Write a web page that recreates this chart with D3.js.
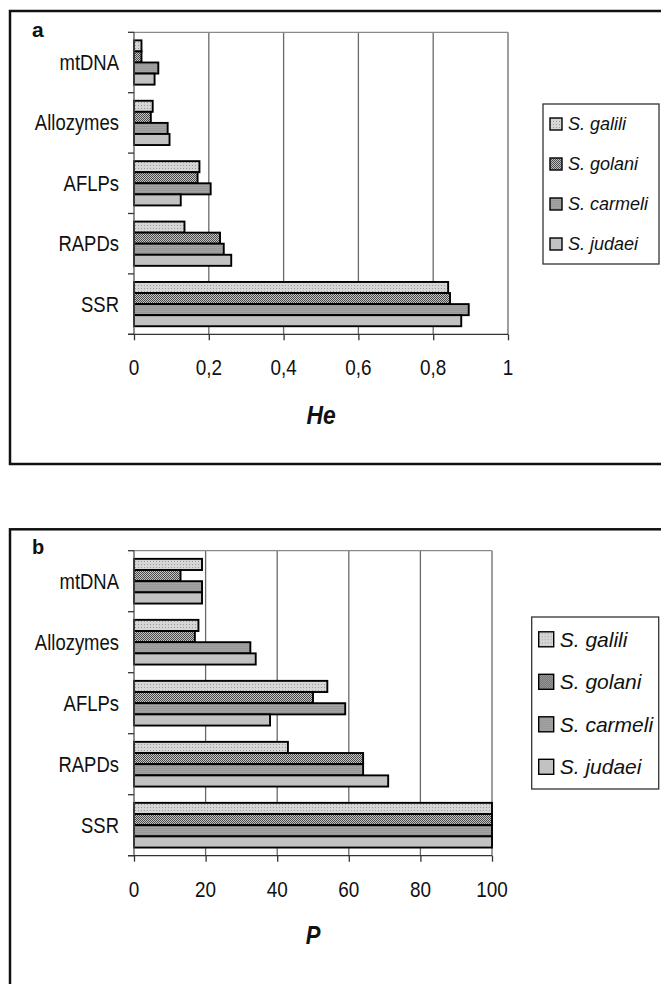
<!DOCTYPE html>
<html>
<head>
<meta charset="utf-8">
<script src="https://cdn.jsdelivr.net/npm/d3@7/dist/d3.min.js"></script>
<style>
  html, body { margin: 0; padding: 0; background: #fff; }
  svg { display: block; font-family: "Liberation Sans", Arial, sans-serif; }
</style>
</head>
<body>
<svg id="chart" width="661" height="984"></svg>
<script>
// Marker categories, listed top to bottom
const categories = ["mtDNA", "Allozymes", "AFLPs", "RAPDs", "SSR"];
const species = ["S. galili", "S. golani", "S. carmeli", "S. judaei"];

// Expected heterozygosity (He) per marker
const heGalili  = [0.02, 0.05, 0.175, 0.135, 0.84];
const heGolani  = [0.02, 0.045, 0.17, 0.23, 0.845];
const heCarmeli = [0.065, 0.09, 0.205, 0.24, 0.895];
const heJudaei  = [0.055, 0.095, 0.125, 0.26, 0.875];

// Percentage of polymorphic loci (P) per marker
const pGalili  = [19, 18, 54, 43, 100];
const pGolani  = [13, 17, 50, 64, 100];
const pCarmeli = [19, 32.5, 59, 64, 100];
const pJudaei  = [19, 34, 38, 71, 100];

const heTicks = [0, 0.2, 0.4, 0.6, 0.8, 1];
const pTicks = [0, 20, 40, 60, 80, 100];

const svg = d3.select("#chart");
const defs = svg.append("defs");

// Fill patterns for the four species
function addPattern(id, size, base, draw) {
  const p = defs.append("pattern").attr("id", id)
    .attr("patternUnits", "userSpaceOnUse").attr("width", size).attr("height", size);
  p.append("rect").attr("width", size).attr("height", size).attr("fill", base);
  draw(p);
}
addPattern("pat-galili", 3, "#d6d6d6", p => {
  p.append("rect").attr("x", 0).attr("y", 0).attr("width", 1).attr("height", 1).attr("fill", "#9a9a9a");
});
addPattern("pat-golani", 2, "#c4c4c4", p => {
  p.append("rect").attr("x", 0).attr("y", 0).attr("width", 1).attr("height", 1).attr("fill", "#4a4a4a");
  p.append("rect").attr("x", 1).attr("y", 1).attr("width", 1).attr("height", 1).attr("fill", "#4a4a4a");
});
addPattern("pat-carmeli", 2, "#a4a4a4", p => {
  p.append("rect").attr("x", 0).attr("y", 0).attr("width", 2).attr("height", 1).attr("fill", "#979797");
});
addPattern("pat-judaei", 2, "#c2c2c2", p => {});
const fills = ["url(#pat-galili)", "url(#pat-golani)", "url(#pat-carmeli)", "url(#pat-judaei)"];

const panels = [
  {
    letter: "a", frameTop: 11, frameH: 453, letterY: 37, letterSize: 21,
    top: 32.3, bottom: 334.3, x0: 134, x1: 508,
    domain: [0, 1], ticks: heTicks, fmt: d => String(d).replace(".", ","),
    series: [heGalili, heGolani, heCarmeli, heJudaei],
    tickLabelY: 374.5, title: "He", titleY: 424, titleSize: 26,
    legend: { x: 543, y: 104, w: 116, h: 160, first: 124, step: 40, icon: 12, font: 18 }
  },
  {
    letter: "b", frameTop: 529.3, frameH: 600, letterY: 554, letterSize: 20,
    top: 550.7, bottom: 855.7, x0: 134, x1: 492,
    domain: [0, 100], ticks: pTicks, fmt: d => String(d),
    series: [pGalili, pGolani, pCarmeli, pJudaei],
    tickLabelY: 897, title: "P", titleY: 944, titleSize: 25,
    legend: { x: 531.7, y: 617, w: 127, h: 172, first: 639.3, step: 42.5, icon: 15, font: 21 }
  }
];

panels.forEach(cfg => {
  const g = svg.append("g");

  // Outer frame of the panel
  g.append("rect")
    .attr("x", 10).attr("y", cfg.frameTop)
    .attr("width", 720).attr("height", cfg.frameH)
    .attr("fill", "none").attr("stroke", "#111").attr("stroke-width", 2.5);

  g.append("text").attr("x", 32).attr("y", cfg.letterY)
    .attr("font-weight", "bold").attr("font-size", cfg.letterSize).attr("fill", "#111")
    .text(cfg.letter);

  const x = d3.scaleLinear().domain(cfg.domain).range([cfg.x0, cfg.x1]);
  const y = d3.scaleBand().domain(categories).range([cfg.top, cfg.bottom])
    .paddingInner(0.267).paddingOuter(0.1335);
  const ySub = d3.scaleBand().domain(d3.range(species.length)).range([0, y.bandwidth()]);

  // Vertical gridlines and plot border
  g.append("g").selectAll("line").data(cfg.ticks.slice(1)).join("line")
    .attr("x1", d => x(d)).attr("x2", d => x(d))
    .attr("y1", cfg.top).attr("y2", cfg.bottom)
    .attr("stroke", "#6a6a6a").attr("stroke-width", 1.3);
  g.append("line").attr("x1", cfg.x0).attr("x2", cfg.x1)
    .attr("y1", cfg.top).attr("y2", cfg.top)
    .attr("stroke", "#8a8a8a").attr("stroke-width", 1.3);

  // Bars
  const rows = [];
  categories.forEach((c, ci) => {
    cfg.series.forEach((arr, si) => rows.push({ c, si, v: arr[ci] }));
  });
  g.append("g").selectAll("rect").data(rows).join("rect")
    .attr("x", x(0))
    .attr("y", d => y(d.c) + ySub(d.si))
    .attr("width", d => x(d.v) - x(0))
    .attr("height", ySub.bandwidth())
    .attr("fill", d => fills[d.si])
    .attr("stroke", "#000").attr("stroke-width", 1.9);

  // Category axis: boundary ticks and labels
  const step = y.step();
  const bounds = d3.range(categories.length + 1).map(i => cfg.top + i * step);
  g.append("line").attr("x1", cfg.x0).attr("x2", cfg.x0)
    .attr("y1", cfg.top).attr("y2", cfg.bottom)
    .attr("stroke", "#555").attr("stroke-width", 1.3);
  g.append("g").selectAll("line").data(bounds).join("line")
    .attr("x1", cfg.x0 - 6).attr("x2", cfg.x0)
    .attr("y1", d => d).attr("y2", d => d)
    .attr("stroke", "#333").attr("stroke-width", 1.3);
  g.append("g").selectAll("text").data(categories).join("text")
    .attr("transform", d => `translate(119,${y(d) + y.bandwidth() / 2 + 7.5}) scale(0.84,1)`)
    .attr("text-anchor", "end").attr("font-size", 22).attr("fill", "#111")
    .text(d => d);

  // Value axis
  const xAxis = d3.axisBottom(x).tickValues(cfg.ticks).tickSize(6).tickFormat("");
  const ax = g.append("g").attr("transform", `translate(0,${cfg.bottom})`).call(xAxis);
  ax.select(".domain").attr("stroke", "#333").attr("stroke-width", 1.3)
    .attr("d", `M${cfg.x0 - 6},0H${cfg.x1}`);
  ax.selectAll(".tick line").attr("stroke", "#333").attr("stroke-width", 1.3);

  g.append("g").selectAll("text").data(cfg.ticks).join("text")
    .attr("transform", d => `translate(${x(d)},${cfg.tickLabelY}) scale(0.86,1)`)
    .attr("text-anchor", "middle").attr("font-size", 22).attr("fill", "#111")
    .text(cfg.fmt);

  g.append("text")
    .attr("transform", `translate(${(cfg.x0 + cfg.x1) / 2},${cfg.titleY}) scale(0.88,1)`)
    .attr("text-anchor", "middle").attr("font-size", cfg.titleSize)
    .attr("font-weight", "bold").attr("font-style", "italic").attr("fill", "#111")
    .text(cfg.title);

  // Legend
  const L = cfg.legend;
  g.append("rect").attr("x", L.x).attr("y", L.y).attr("width", L.w).attr("height", L.h)
    .attr("fill", "#fff").attr("stroke", "#333").attr("stroke-width", 1.3);
  const items = g.append("g").selectAll("g").data(species).join("g")
    .attr("transform", (d, i) => `translate(${L.x + 7},${L.first + i * L.step})`);
  items.append("rect")
    .attr("x", 0).attr("y", -L.icon / 2).attr("width", L.icon).attr("height", L.icon)
    .attr("fill", (d, i) => fills[i]).attr("stroke", "#000").attr("stroke-width", 1.4);
  items.append("text")
    .attr("x", L.icon + 6).attr("y", L.font * 0.36)
    .attr("font-size", L.font).attr("font-style", "italic").attr("fill", "#111")
    .text(d => d);
});
</script>
</body>
</html>
